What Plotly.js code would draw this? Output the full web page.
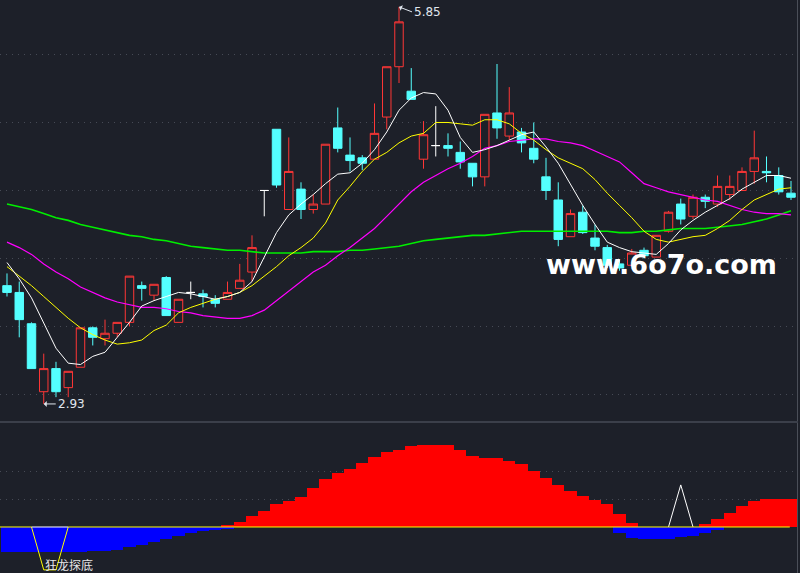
<!DOCTYPE html>
<html><head><meta charset="utf-8">
<script src="https://cdn.plot.ly/plotly-3.0.1.min.js"></script>
<style>html,body{margin:0;padding:0;background:#1d2029;}#chart{width:800px;height:573px;}</style>
</head><body><div id="chart"></div>
<script>
// ---- price data (per bar) ----
const openP  = [3.80,3.75,3.52,3.02,3.19,3.05,3.20,3.49,3.41,3.45,3.53,3.80,3.73,3.86,3.53,3.75,3.74,3.70,3.70,3.78,3.90,4.50,4.95,4.36,4.51,4.36,4.40,4.96,4.76,4.74,4.73,5.04,5.41,5.23,4.73,4.83,4.83,4.78,4.70,4.60,5.07,4.90,4.93,4.81,4.60,4.43,4.16,4.34,4.15,4.08,3.96,3.95,4.06,4.01,4.20,4.40,4.31,4.45,4.40,4.47,4.50,4.64,4.64,4.61,4.48];
const highP  = [3.89,3.83,3.53,3.30,3.24,3.17,3.49,3.50,3.55,3.53,3.87,3.83,3.81,3.87,3.70,3.83,3.77,3.73,3.83,3.96,4.17,4.50,4.95,4.89,4.56,4.47,4.84,5.11,4.89,4.76,5.14,5.41,5.85,5.40,5.01,5.12,4.92,4.86,4.70,5.06,5.43,5.26,4.96,5.00,4.74,4.56,4.36,4.39,4.25,4.10,3.99,4.07,4.08,4.17,4.35,4.44,4.47,4.47,4.61,4.61,4.67,4.94,4.75,4.67,4.57];
const lowP   = [3.72,3.42,3.19,2.93,2.98,2.98,3.20,3.36,3.36,3.42,3.50,3.69,3.69,3.58,3.53,3.70,3.64,3.64,3.70,3.78,3.83,4.31,4.52,4.36,4.29,4.33,4.40,4.78,4.64,4.65,4.73,4.95,5.29,5.17,4.66,4.75,4.75,4.66,4.53,4.53,4.88,4.87,4.78,4.70,4.43,4.09,4.16,4.18,4.06,3.93,3.91,3.95,4.00,4.01,4.19,4.25,4.29,4.37,4.38,4.43,4.50,4.55,4.56,4.47,4.43];
const closeP = [3.75,3.55,3.19,3.19,3.02,3.17,3.49,3.42,3.45,3.53,3.87,3.78,3.81,3.58,3.70,3.75,3.72,3.67,3.75,3.84,4.08,4.50,4.54,4.64,4.36,4.40,4.84,4.81,4.72,4.70,4.92,5.41,5.74,5.17,4.91,4.83,4.81,4.71,4.60,5.06,4.96,5.07,4.85,4.73,4.50,4.14,4.33,4.19,4.09,3.95,3.93,4.04,4.02,4.17,4.34,4.29,4.45,4.42,4.53,4.53,4.64,4.74,4.63,4.49,4.45];

// ---- moving average lines ----
const maWhite  = [3.97,3.85,3.71,3.52,3.34,3.23,3.22,3.28,3.31,3.42,3.53,3.65,3.69,3.72,3.75,3.74,3.72,3.70,3.72,3.75,3.83,4.01,4.19,4.32,4.40,4.47,4.55,4.62,4.63,4.70,4.80,4.93,5.09,5.18,5.22,5.21,5.09,4.89,4.78,4.80,4.83,4.87,4.91,4.93,4.82,4.70,4.54,4.39,4.25,4.12,4.08,4.05,4.04,4.03,4.11,4.21,4.28,4.34,4.39,4.44,4.51,4.56,4.61,4.61,4.59];
const maYellow = [3.94,3.87,3.80,3.72,3.64,3.56,3.49,3.44,3.40,3.37,3.38,3.40,3.47,3.51,3.60,3.64,3.67,3.70,3.72,3.75,3.80,3.87,3.94,4.02,4.08,4.15,4.26,4.43,4.53,4.64,4.73,4.78,4.85,4.90,4.92,5.00,5.00,4.99,4.98,5.02,5.02,4.99,4.92,4.87,4.80,4.74,4.70,4.66,4.58,4.48,4.39,4.30,4.20,4.14,4.12,4.14,4.16,4.17,4.22,4.28,4.36,4.43,4.47,4.51,4.52];
const maPink   = [4.12,4.08,4.03,3.96,3.90,3.85,3.79,3.75,3.71,3.68,3.66,3.64,3.64,3.63,3.61,3.60,3.58,3.57,3.56,3.56,3.58,3.62,3.69,3.76,3.83,3.90,3.95,4.02,4.08,4.15,4.22,4.31,4.40,4.49,4.56,4.61,4.66,4.70,4.75,4.81,4.83,4.86,4.87,4.88,4.88,4.86,4.85,4.83,4.79,4.75,4.71,4.63,4.55,4.52,4.49,4.47,4.45,4.43,4.42,4.39,4.36,4.34,4.33,4.33,4.32];
const maGreen  = [4.40,4.38,4.36,4.33,4.30,4.28,4.25,4.23,4.21,4.19,4.17,4.16,4.14,4.13,4.11,4.09,4.08,4.07,4.06,4.06,4.05,4.04,4.04,4.04,4.04,4.05,4.05,4.05,4.06,4.06,4.07,4.08,4.09,4.11,4.13,4.14,4.15,4.16,4.17,4.17,4.18,4.19,4.20,4.20,4.20,4.20,4.20,4.20,4.20,4.20,4.19,4.19,4.20,4.20,4.21,4.22,4.22,4.22,4.23,4.24,4.25,4.27,4.29,4.32,4.35];

// ---- lower indicator ----
const histRed  = [0,0,0,0,0,0,0,0,0,0,0,0,0,0,0,0,0,0,0.08,0.19,0.41,0.59,0.85,0.96,1.10,1.43,1.76,1.97,2.12,2.34,2.56,2.74,2.81,2.95,2.98,2.98,2.98,2.80,2.58,2.51,2.51,2.40,2.29,2.04,1.78,1.53,1.31,1.13,0.98,0.84,0.47,0.15,0,0,0,0,0,0.11,0.29,0.51,0.76,0.95,1.02,1.02,1.02];
const histBlue = [-0.92,-0.92,-0.92,-0.92,-0.92,-0.92,-0.92,-0.88,-0.86,-0.83,-0.74,-0.65,-0.55,-0.43,-0.34,-0.23,-0.16,-0.11,-0.07,0,0,0,0,0,0,0,0,0,0,0,0,0,0,0,0,0,0,0,0,0,0,0,0,0,0,0,0,0,0,0,-0.21,-0.39,-0.45,-0.45,-0.45,-0.37,-0.32,-0.21,-0.11,0,0,0,0,0,0];
const bottomSigIdx = [2,3,4,5];
const bottomSigVal = [0,-1.56,-1.56,0];
const topSigIdx = [54,55,56];
const topSigVal = [0,1.53,0];
const bottomSigLabel = '狂龙探底';
const highLabel = '5.85', lowLabel = '2.93';
const highIdx = 32, lowIdx = 3;
const watermark = 'www.6o7o.com';

const idx = openP.map((_, i) => i);
function pick(test) {
  const o = [], h = [], l = [], c = [];
  idx.forEach(i => {
    const ok = test(openP[i], closeP[i]);
    o.push(ok ? openP[i] : null); h.push(ok ? highP[i] : null);
    l.push(ok ? lowP[i] : null); c.push(ok ? closeP[i] : null);
  });
  return {o, h, l, c};
}
const BG = '#1d2029';
const RED = '#ff3636', CYAN = '#54ffff';
function candle(set, incCol, incFill, decCol, decFill) {
  return {type: 'candlestick', x: idx, open: set.o, high: set.h, low: set.l, close: set.c,
    xaxis: 'x', yaxis: 'y', whiskerwidth: 0, hoverinfo: 'skip',
    increasing: {line: {color: incCol, width: 1}, fillcolor: incFill},
    decreasing: {line: {color: decCol, width: 1}, fillcolor: decFill}};
}
const up = pick((o, c) => c > o), down = pick((o, c) => c < o), flat = pick((o, c) => c === o);

function ma(y, color, w) {
  return {type: 'scatter', mode: 'lines', x: idx, y: y, xaxis: 'x', yaxis: 'y',
    line: {color: color, width: w}, hoverinfo: 'skip'};
}

const traces = [
  {type: 'bar', x: idx, y: histRed, xaxis: 'x', yaxis: 'y2', marker: {color: '#ff0000', line: {width: 0}}, hoverinfo: 'skip'},
  {type: 'bar', x: idx, y: histBlue, xaxis: 'x', yaxis: 'y2', marker: {color: '#0000ff', line: {width: 0}}, hoverinfo: 'skip'},
  {type: 'scatter', mode: 'lines', x: bottomSigIdx, y: bottomSigVal, xaxis: 'x', yaxis: 'y2', line: {color: '#ffff00', width: 1}, hoverinfo: 'skip'},
  {type: 'scatter', mode: 'lines', x: topSigIdx, y: topSigVal, xaxis: 'x', yaxis: 'y2', line: {color: '#ffffff', width: 1}, hoverinfo: 'skip'},
  ma(maGreen, '#00ee00', 1.6),
  ma(maPink, '#ff00ff', 1.2),
  ma(maYellow, '#ffff00', 1),
  ma(maWhite, '#ffffff', 1),
  candle(up, RED, BG, RED, BG),
  candle(down, CYAN, CYAN, CYAN, CYAN),
  candle(flat, '#ffffff', '#ffffff', '#ffffff', '#ffffff')
];

const n = idx.length;
const layout = {
  width: 800, height: 573,
  margin: {l: 0, r: 3, t: 0, b: 0},
  paper_bgcolor: BG, plot_bgcolor: BG,
  showlegend: false, hovermode: false,
  barmode: 'relative', bargap: 0,
  boxgap: 0.31, boxgroupgap: 0,
  font: {family: 'DejaVu Sans', color: '#e0e6ee', size: 12},
  xaxis: {anchor: 'y2', range: [-0.571, n - 0.51], showticklabels: false, ticks: '',
    showgrid: false, zeroline: false, showline: true, mirror: true,
    linecolor: '#3b3f4a', linewidth: 2, rangeslider: {visible: false}, fixedrange: true},
  yaxis: {domain: [0.2618, 1], range: [2.790, 5.9007], side: 'right',
    tickvals: [3, 3.5, 4, 4.5, 5, 5.5], showticklabels: false, ticks: '',
    gridcolor: '#464a55', griddash: '1px,5px', gridwidth: 1, zeroline: false,
    showline: true, linecolor: '#4a4e58', linewidth: 1, fixedrange: true},
  yaxis2: {domain: [0, 0.2618], range: [-1.673, 3.782], side: 'right',
    tickvals: [1, 2], showticklabels: false, ticks: '',
    gridcolor: '#464a55', griddash: '1px,5px', gridwidth: 1, zeroline: false,
    showline: true, linecolor: '#4a4e58', linewidth: 1, fixedrange: true},
  shapes: [
    {type: 'line', xref: 'x', yref: 'y2', x0: -0.571, x1: 2, y0: 0, y1: 0, line: {color: '#ffff00', width: 1}},
    {type: 'line', xref: 'x', yref: 'y2', x0: 2, x1: 5, y0: 0, y1: 0, line: {color: '#ffffff', width: 1}},
    {type: 'line', xref: 'x', yref: 'y2', x0: 5, x1: 63.9, y0: 0, y1: 0, line: {color: '#ffff00', width: 1}}
  ],
  annotations: [
    {x: highIdx, y: highP[highIdx], xref: 'x', yref: 'y', text: highLabel, showarrow: true,
      ax: 13, ay: 5, xanchor: 'left', yanchor: 'middle', arrowhead: 1, arrowsize: 1, arrowwidth: 1,
      arrowcolor: '#e0e6ee', font: {size: 12, color: '#e0e6ee'}},
    {x: lowIdx, y: lowP[lowIdx], xref: 'x', yref: 'y', text: lowLabel, showarrow: true,
      ax: 12, ay: 0, xanchor: 'left', yanchor: 'middle', arrowhead: 1, arrowsize: 1, arrowwidth: 1,
      arrowcolor: '#e0e6ee', font: {size: 12, color: '#e0e6ee'}},
    {x: bottomSigIdx[1] - 0.05, y: -1.35, xref: 'x', yref: 'y2', text: bottomSigLabel, showarrow: false,
      xanchor: 'left', yanchor: 'middle', font: {family: 'Noto Sans CJK SC', size: 12, color: '#e8e8e8'}},
    {x: 0.83, y: 0.539, xref: 'paper', yref: 'paper', text: watermark, showarrow: false,
      xanchor: 'center', yanchor: 'middle', font: {family: 'DejaVu Sans', size: 27, color: '#ffffff', weight: 'bold'}}
  ]
};
Plotly.newPlot('chart', traces, layout, {staticPlot: true, displayModeBar: false});
</script>
</body></html>
